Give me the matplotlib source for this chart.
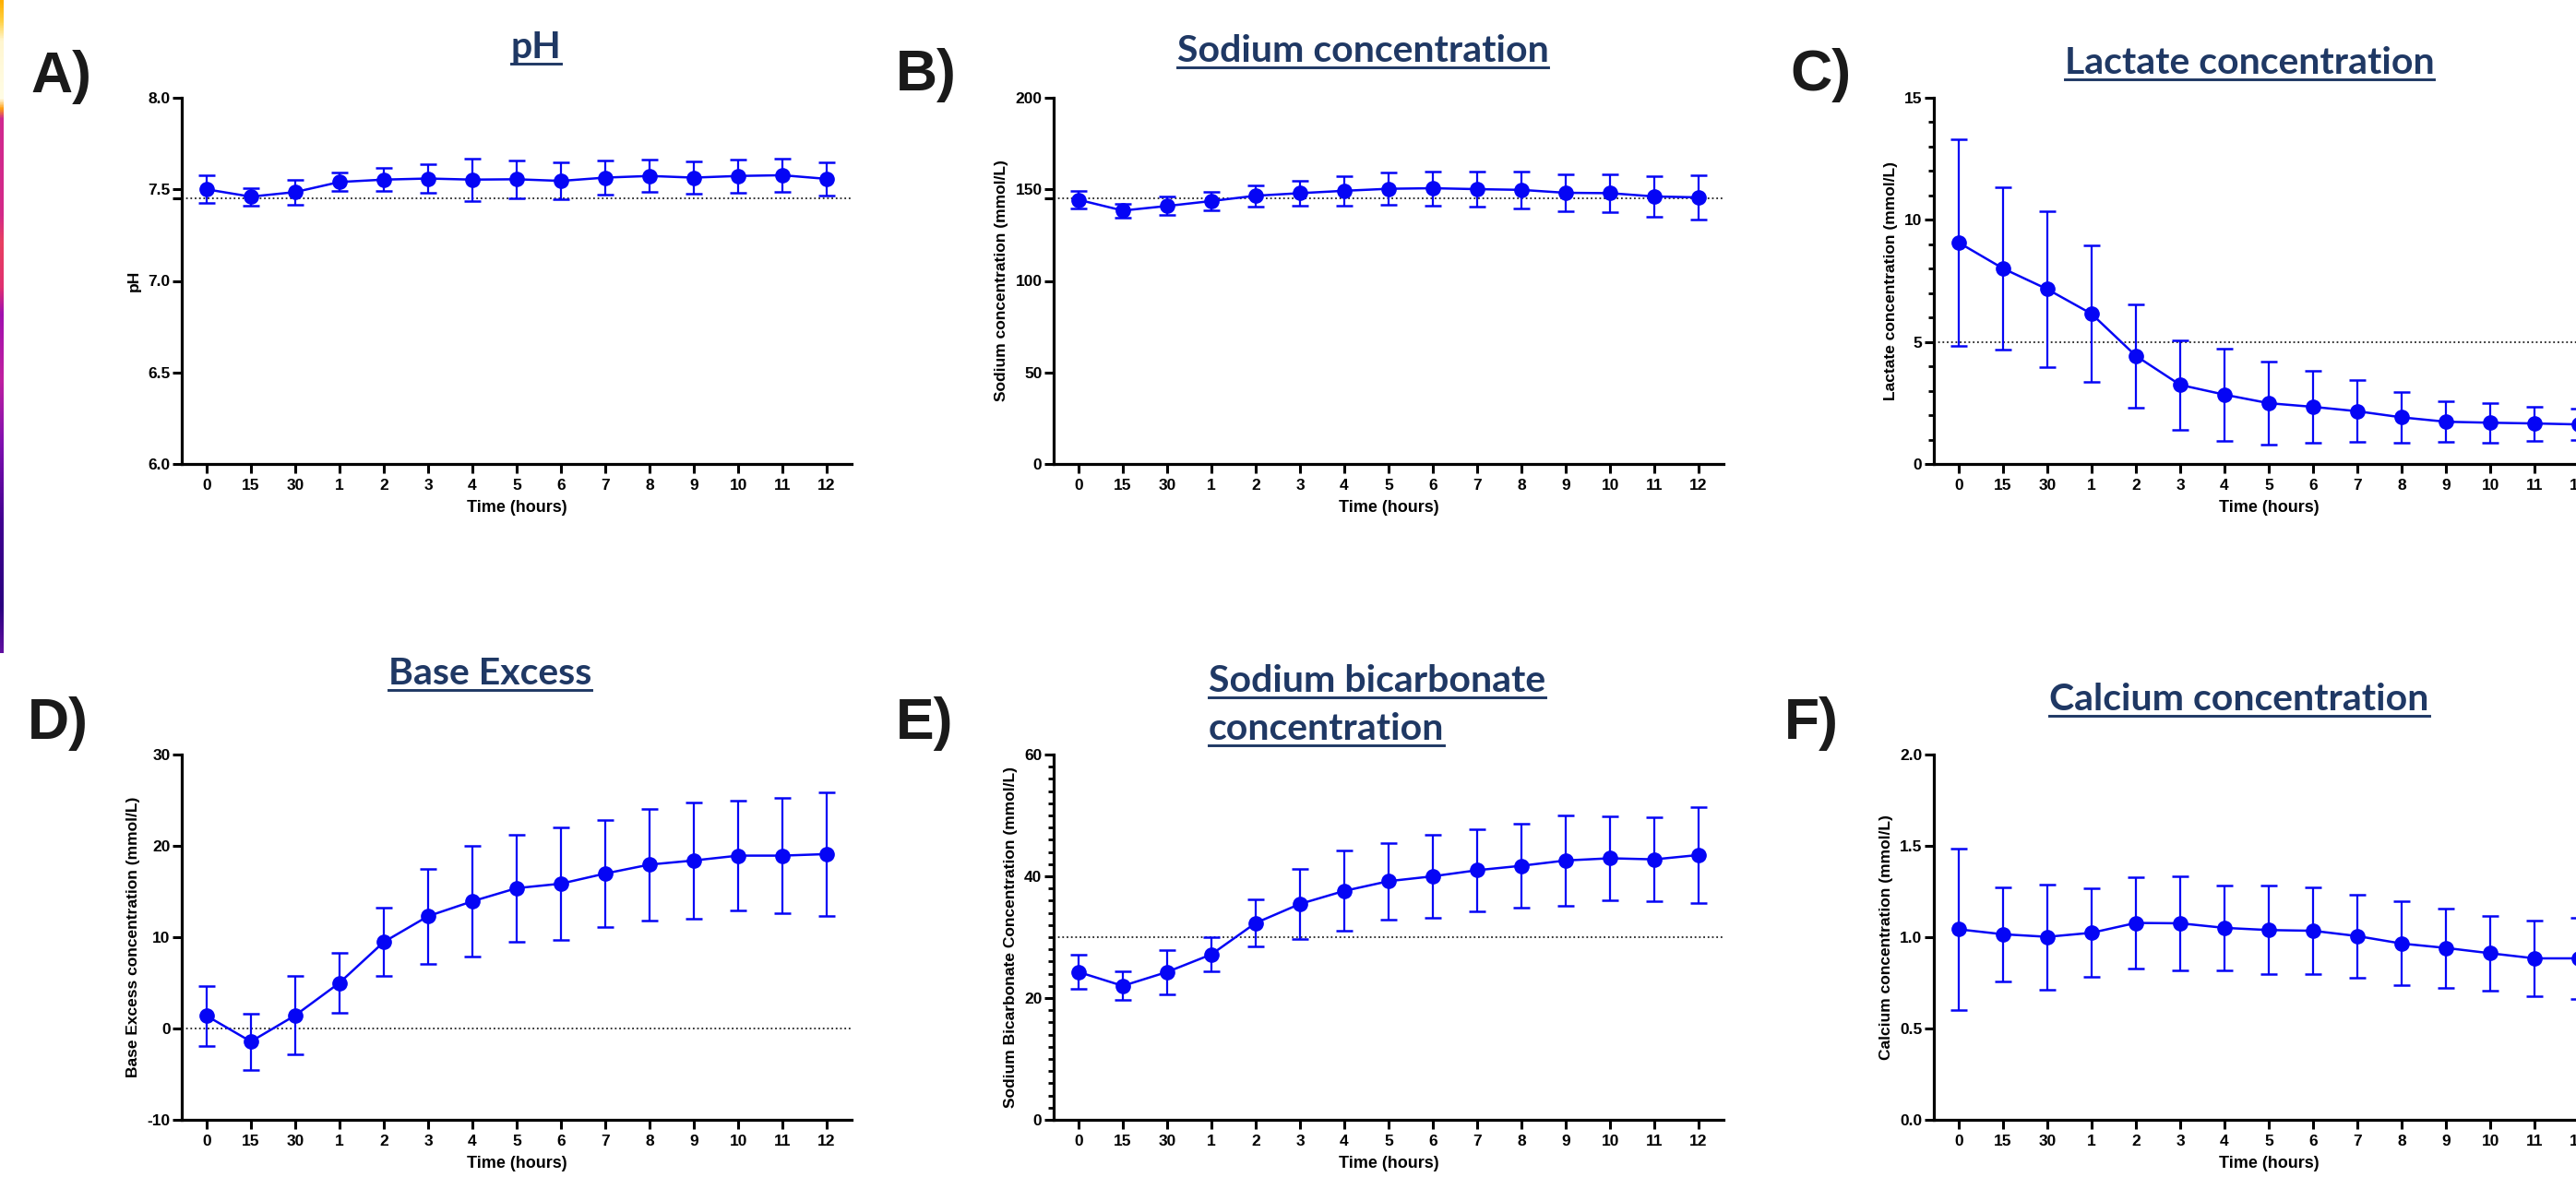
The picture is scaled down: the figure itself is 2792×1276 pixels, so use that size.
import numpy as np
import matplotlib
matplotlib.use("Agg")
import matplotlib.pyplot as plt
from matplotlib.colors import LinearSegmentedColormap
from matplotlib.lines import Line2D
from matplotlib.ticker import MultipleLocator

W, H = 2792, 1276

time_labels = ["0", "15", "30", "1", "2", "3", "4", "5", "6", "7", "8", "9", "10", "11", "12"]

ph_mean = [7.50, 7.46, 7.485, 7.54, 7.553, 7.559, 7.553, 7.555, 7.546, 7.564, 7.573, 7.564, 7.573, 7.577, 7.557]
ph_sd = [0.075, 0.048, 0.067, 0.05, 0.062, 0.077, 0.115, 0.102, 0.10, 0.094, 0.087, 0.089, 0.091, 0.091, 0.09]

na_mean = [144.3, 138.4, 140.9, 143.6, 146.5, 147.9, 149.2, 150.3, 150.6, 150.1, 149.7, 148.1, 147.9, 146.1, 145.6]
na_sd = [5.0, 3.7, 5.0, 5.1, 5.75, 6.6, 7.9, 8.7, 9.3, 9.5, 10.0, 10.1, 10.5, 11.2, 12.0]

lac_mean = [9.07, 8.01, 7.16, 6.15, 4.43, 3.24, 2.84, 2.49, 2.34, 2.16, 1.91, 1.73, 1.69, 1.66, 1.62]
lac_sd = [4.24, 3.32, 3.18, 2.80, 2.11, 1.83, 1.88, 1.70, 1.47, 1.27, 1.05, 0.84, 0.82, 0.70, 0.64]

be_mean = [1.39, -1.43, 1.43, 5.0, 9.47, 12.3, 13.93, 15.37, 15.86, 16.97, 17.95, 18.4, 18.93, 18.93, 19.1]
be_sd = [3.3, 3.08, 4.3, 3.32, 3.73, 5.19, 6.09, 5.84, 6.15, 5.9, 6.09, 6.35, 6.02, 6.3, 6.8]

bic_mean = [24.28, 22.0, 24.28, 27.17, 32.33, 35.46, 37.6, 39.2, 40.0, 41.0, 41.73, 42.6, 42.96, 42.78, 43.5]
bic_sd = [2.8, 2.35, 3.6, 2.8, 3.9, 5.69, 6.6, 6.3, 6.8, 6.77, 6.85, 7.4, 6.85, 6.9, 7.84]

ca_mean = [1.043, 1.016, 1.002, 1.024, 1.078, 1.076, 1.051, 1.039, 1.035, 1.006, 0.965, 0.941, 0.912, 0.884, 0.884]
ca_sd = [0.44, 0.258, 0.288, 0.243, 0.248, 0.258, 0.233, 0.243, 0.237, 0.227, 0.23, 0.218, 0.205, 0.207, 0.22]

BLUE = "#0505F5"
NAVY = "#1F3864"
SANS = "Liberation Sans"
TITLE_FONT = "Lato"

fig = plt.figure(figsize=(W / 100, H / 100), dpi=100)


def px_axes(x0, y0, x1, y1):
    return fig.add_axes([x0 / W, 1 - y1 / H, (x1 - x0) / W, (y1 - y0) / H])


def panel(box, mean, sd, ylim, major, ylabel, ref=None, minor=None, fmt="{:g}", ref_tick=False):
    ax = px_axes(*box)
    idx = np.arange(len(time_labels))
    ax.errorbar(idx, mean, yerr=sd, fmt="-o", color=BLUE, ms=11, lw=1.8,
                elinewidth=1.6, capsize=6.5, capthick=1.8, zorder=3)
    if ref is not None:
        ax.axhline(ref, color="#222222", lw=1.3, ls=(0, (1, 1.6)), zorder=2)
    ax.set_xlim(-0.56, len(time_labels) - 0.44)
    ax.set_ylim(*ylim)
    ticks = list(major)
    labels = [fmt.format(t) for t in major]
    if ref_tick:
        ticks.append(ref)
        labels.append("")
    ax.set_yticks(ticks)
    ax.set_yticklabels(labels)
    if minor:
        ax.yaxis.set_minor_locator(MultipleLocator(minor))
        ax.tick_params(axis="y", which="minor", length=4.5, width=2)
    ax.set_xticks(idx)
    ax.set_xticklabels(time_labels)
    for s in ("top", "right"):
        ax.spines[s].set_visible(False)
    for s in ("left", "bottom"):
        ax.spines[s].set_linewidth(2.3)
    ax.tick_params(axis="both", which="major", length=7, width=2.2, labelsize=12.5)
    ax.tick_params(axis="x", pad=4.5)
    ax.tick_params(axis="y", pad=2)
    for lab in ax.get_xticklabels() + ax.get_yticklabels():
        lab.set_fontweight("bold")
        lab.set_fontfamily(SANS)
    ax.set_xlabel("Time (hours)", fontsize=13, fontweight="bold", family=SANS, labelpad=6)
    ax.set_ylabel(ylabel, fontsize=12.5, fontweight="bold", family=SANS, labelpad=5)
    return ax


top = (106, 503)
bot = (818, 1214)
cols = [(197, 923), (1142, 1868), (2096, 2822)]

panel((cols[0][0], top[0], cols[0][1], top[1]), ph_mean, ph_sd, (6.0, 8.0),
      [6.0, 6.5, 7.0, 7.5, 8.0], "pH", ref=7.45, fmt="{:.1f}", ref_tick=True)
panel((cols[1][0], top[0], cols[1][1], top[1]), na_mean, na_sd, (0, 200),
      [0, 50, 100, 150, 200], "Sodium concentration (mmol/L)", ref=145, ref_tick=True)
panel((cols[2][0], top[0], cols[2][1], top[1]), lac_mean, lac_sd, (0, 15),
      [0, 5, 10, 15], "Lactate concentration (mmol/L)", ref=5, minor=1)
panel((cols[0][0], bot[0], cols[0][1], bot[1]), be_mean, be_sd, (-10, 30),
      [-10, 0, 10, 20, 30], "Base Excess concentration (mmol/L)", ref=0)
panel((cols[1][0], bot[0], cols[1][1], bot[1]), bic_mean, bic_sd, (0, 60),
      [0, 20, 40, 60], "Sodium Bicarbonate Concentration (mmol/L)", ref=30, minor=2)
panel((cols[2][0], bot[0], cols[2][1], bot[1]), ca_mean, ca_sd, (0, 2.0),
      [0.0, 0.5, 1.0, 1.5, 2.0], "Calcium concentration (mmol/L)", fmt="{:.1f}")

# panel letters
for letter, x, y in [("A)", 33, 100), ("B)", 971, 98), ("C)", 1940, 98),
                     ("D)", 30, 801), ("E)", 971, 801), ("F)", 1934, 801)]:
    fig.text(x / W, 1 - y / H, letter, ha="left", va="baseline", fontsize=45,
             fontweight="bold", family=SANS, color="#1a1a1a")

# underlined titles
titles = [("pH", 581, 63, "center"),
          ("Sodium concentration", 1477, 67, "center"),
          ("Lactate concentration", 2438, 80, "center"),
          ("Base Excess", 531, 742, "center"),
          ("Sodium bicarbonate", 1310, 750, "left"),
          ("concentration", 1310, 802, "left"),
          ("Calcium concentration", 2427, 770, "center")]
title_texts = []
for txt, x, y, ha in titles:
    t = fig.text(x / W, 1 - y / H, txt, ha=ha, va="baseline", fontsize=29.5,
                 fontweight="bold", family=TITLE_FONT, color=NAVY)
    title_texts.append((t, y))

fig.canvas.draw()
renderer = fig.canvas.get_renderer()
for t, y in title_texts:
    bb = t.get_window_extent(renderer)
    uy = 1 - (y + 6) / H
    fig.add_artist(Line2D([bb.x0 / W, bb.x1 / W], [uy, uy], color=NAVY, lw=2.1,
                          transform=fig.transFigure))

# thin colour stripe on the left edge
stripe_cmap = LinearSegmentedColormap.from_list("stripe", [
    (0.0, "#FFB000"), (0.03, "#FFD040"), (0.06, "#FFF6D0"), (0.15, "#FFFDE6"),
    (0.165, "#FF9E10"), (0.18, "#D02890"), (0.33, "#D42A88"), (0.37, "#E84060"),
    (0.44, "#E03070"), (0.48, "#A010B0"), (0.58, "#C020A0"), (0.68, "#8010B0"),
    (0.80, "#400090"), (0.93, "#2A0080"), (1.0, "#6010A0")])
sax = fig.add_axes([0, 1 - 708 / H, 4 / W, 708 / H])
sax.imshow(np.linspace(0, 1, 256).reshape(-1, 1), aspect="auto", cmap=stripe_cmap)
sax.axis("off")

fig.savefig("out.png", dpi=100)
